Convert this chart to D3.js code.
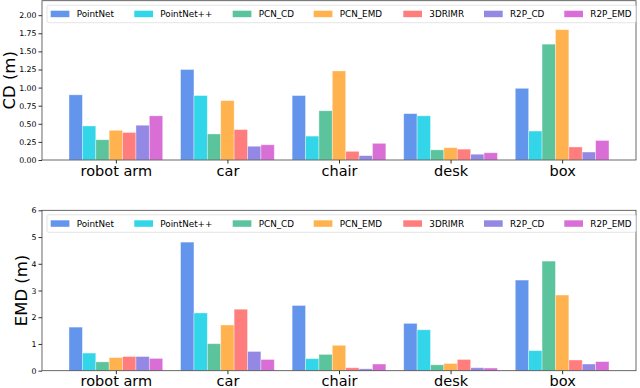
<!DOCTYPE html>
<html>
<head>
<meta charset="utf-8">
<script src="https://cdn.jsdelivr.net/npm/d3@7"></script>
<style>
  body { margin: 0; background: #fff; }
  svg text { font-family: "DejaVu Sans", sans-serif; }
</style>
</head>
<body>
<svg id="chart" width="640" height="388"></svg>
<script>
const categories = ["robot arm", "car", "chair", "desk", "box"];
const methods = ["PointNet", "PointNet++", "PCN_CD", "PCN_EMD", "3DRIMR", "R2P_CD", "R2P_EMD"];
const colors = ["#6495ED", "#33D5E9", "#5CC49C", "#FFB24D", "#FF7D7D", "#9388E3", "#D96FD6"];

// rows = methods, columns = categories
const cdValues = [
  [0.90, 1.25, 0.89, 0.64, 0.99],
  [0.47, 0.89, 0.33, 0.61, 0.40],
  [0.28, 0.36, 0.68, 0.14, 1.60],
  [0.41, 0.82, 1.23, 0.17, 1.80],
  [0.38, 0.42, 0.12, 0.15, 0.18],
  [0.48, 0.19, 0.06, 0.08, 0.11],
  [0.61, 0.21, 0.23, 0.10, 0.27]
];
const emdValues = [
  [1.63, 4.81, 2.44, 1.77, 3.39],
  [0.66, 2.16, 0.45, 1.53, 0.75],
  [0.33, 1.01, 0.61, 0.22, 4.10],
  [0.49, 1.71, 0.95, 0.27, 2.83],
  [0.53, 2.30, 0.11, 0.42, 0.40],
  [0.53, 0.72, 0.07, 0.11, 0.25],
  [0.46, 0.42, 0.25, 0.10, 0.34]
];
const cdTicks = [0, 0.25, 0.5, 0.75, 1.0, 1.25, 1.5, 1.75, 2.0];
const emdTicks = [0, 1, 2, 3, 4, 5, 6];

const svg = d3.select("#chart");
const barW = 0.12;

function drawPanel(values, ticks, yMax, label, top, bottom, labelX, tickFmt) {
  const left = 42, right = 636;
  const x = d3.scaleLinear()
    .domain([-0.42 - 0.242, 4.42 + 0.242])
    .range([left, right]);
  const y = d3.scaleLinear().domain([0, yMax]).range([bottom, top]);

  const g = svg.append("g");

  const flat = [];
  values.forEach((row, m) => row.forEach((v, c) => flat.push({ m, c, v })));

  g.selectAll("rect.bar")
    .data(flat)
    .enter()
    .append("rect")
    .attr("class", "bar")
    .attr("x", d => x(d.c - 0.42 + d.m * barW))
    .attr("width", x(barW) - x(0))
    .attr("y", d => y(d.v))
    .attr("height", d => y(0) - y(d.v))
    .attr("fill", d => colors[d.m])
    .attr("stroke", "#fff")
    .attr("stroke-opacity", 0.45)
    .attr("stroke-width", 0.8);

  // frame
  g.append("rect")
    .attr("x", left).attr("y", top)
    .attr("width", right - left).attr("height", bottom - top)
    .attr("fill", "none").attr("stroke", "#444").attr("stroke-width", 0.8);

  const yAxis = g.append("g")
    .attr("transform", `translate(${left},0)`)
    .call(d3.axisLeft(y).tickValues(ticks).tickFormat(tickFmt).tickSize(3.5).tickPadding(2));
  yAxis.select(".domain").remove();
  yAxis.selectAll("line").attr("stroke", "#333");
  yAxis.selectAll("text").style("font-size", "7.8px").attr("fill", "#000");

  const xAxis = g.append("g")
    .attr("transform", `translate(0,${bottom})`)
    .call(d3.axisBottom(x).tickValues(d3.range(categories.length))
      .tickFormat(i => categories[i]).tickSize(3.5).tickPadding(2));
  xAxis.select(".domain").remove();
  xAxis.selectAll("line").attr("stroke", "#333");
  xAxis.selectAll("text").style("font-size", "14.5px").attr("fill", "#000");

  g.append("text")
    .attr("transform", `translate(${labelX},${(top + bottom) / 2}) rotate(-90)`)
    .attr("text-anchor", "middle")
    .attr("dominant-baseline", "central")
    .style("font-size", "16.5px")
    .text(label);

  // legend
  const legTop = top + 4.5;
  const leg = g.append("g");
  leg.append("rect")
    .attr("x", 47).attr("y", legTop)
    .attr("width", 589).attr("height", 17.5)
    .attr("rx", 2)
    .attr("fill", "#fff").attr("fill-opacity", 0.8)
    .attr("stroke", "#ddd").attr("stroke-width", 0.8);
  const patchX = [50.7, 134.3, 232.7, 313.7, 403.3, 484, 564.3];
  methods.forEach((name, i) => {
    leg.append("rect")
      .attr("x", patchX[i]).attr("y", legTop + 5.5)
      .attr("width", 18.7).attr("height", 6.5)
      .attr("fill", colors[i]);
    leg.append("text")
      .attr("x", patchX[i] + 26)
      .attr("y", legTop + 8.8)
      .attr("dominant-baseline", "central")
      .style("font-size", "8.8px")
      .text(name);
  });
}

drawPanel(cdValues, cdTicks, 2.2, "CD (m)", 0.7, 160, 9, d3.format(".2f"));
drawPanel(emdValues, emdTicks, 6, "EMD (m)", 210.3, 370.7, 21.5, d3.format("d"));
</script>
</body>
</html>
